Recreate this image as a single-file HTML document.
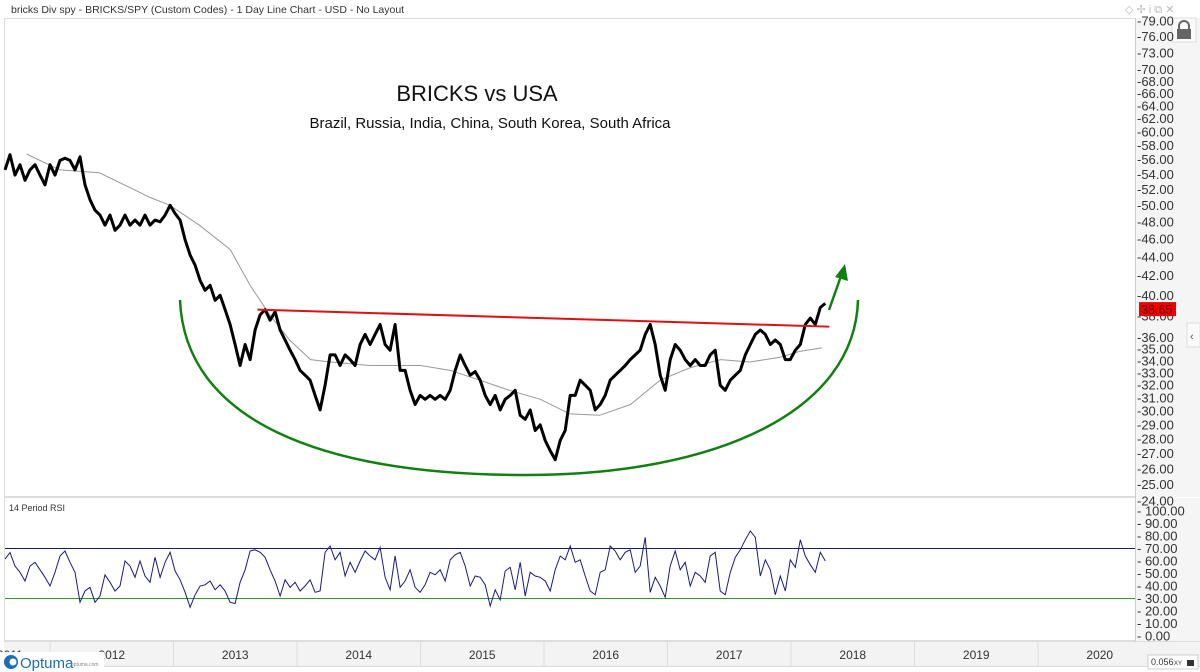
<!DOCTYPE html>
<html><head><meta charset="utf-8"><style>
body{margin:0;width:1200px;height:672px;background:#fff;overflow:hidden;font-family:"Liberation Sans",sans-serif}
svg{display:block}
</style></head><body>
<svg id="chart" width="1200" height="672" viewBox="0 0 1200 672" xmlns="http://www.w3.org/2000/svg" font-family="Liberation Sans, sans-serif">
<rect x="0" y="0" width="1200" height="672" fill="#fff"/>
<text x="11" y="13" font-size="10.5" fill="#333">bricks Div spy - BRICKS/SPY (Custom Codes) - 1 Day Line Chart - USD - No Layout</text>
<g font-size="11" fill="#bbb"><text x="1125" y="13">◇ ✢ i ⧉ ✕</text></g>
<rect x="4.5" y="18.5" width="1131" height="478" fill="none" stroke="#ddd"/>
<rect x="4.5" y="497.5" width="1131" height="143" fill="none" stroke="#ddd"/>
<rect x="1135" y="18" width="65" height="479" fill="#f5f5f5"/>
<rect x="1135" y="498" width="65" height="143" fill="#f5f5f5"/>
<line x1="1135.5" y1="18" x2="1135.5" y2="641" stroke="#ccc"/>
<rect x="1172" y="18" width="24" height="24" fill="#fafafa" stroke="#ddd"/>
<path d="M1179 30 v-4 a5 5 0 0 1 10 0 v4" fill="none" stroke="#666" stroke-width="2"/>
<rect x="1177" y="29" width="14" height="10" fill="#666"/>
<rect x="1187" y="323" width="13" height="24" fill="#fafafa" stroke="#ddd"/>
<text x="1190" y="340" font-size="11" fill="#555">‹</text>
<text x="477" y="101" font-size="22" text-anchor="middle" fill="#111">BRICKS vs USA</text>
<text x="490" y="128" font-size="15" text-anchor="middle" fill="#111">Brazil, Russia, India, China, South Korea, South Africa</text>
<text x="9" y="511" font-size="9" fill="#333">14 Period RSI</text>
<rect x="4" y="641" width="1196" height="26" fill="#f3f3f3"/>
<line x1="4" y1="641.5" x2="1200" y2="641.5" stroke="#ddd"/>
<line x1="4" y1="666.5" x2="1200" y2="666.5" stroke="#ddd"/>
<g id="price-ticks"></g>
<g id="rsi-ticks"></g>
<g id="time-ticks"></g>
<g id="marks"></g>
<g>
<rect x="0" y="652" width="104" height="20" fill="#fff"/>
<circle cx="11" cy="662" r="7" fill="#1a6fb5"/><circle cx="13" cy="662" r="3.5" fill="#fff"/>
<text x="20" y="668" font-size="15" fill="#1a6fb5">Optuma</text>
<text x="71" y="666" font-size="5" fill="#888">optuma.com</text>
</g>
<g><rect x="1148" y="655" width="50" height="14" fill="#fff" stroke="#ccc"/>
<text x="1151" y="665" font-size="9" fill="#333">0.056</text><text x="1174" y="665" font-size="6" fill="#333">XY</text><rect x="1187" y="660" width="7" height="6" fill="#333"/></g>
</svg>
<script>
const priceStartYear = 2011.6356;
const priceStepYears = 0.0405;
const priceValues = [54.6,56.7,53.9,55.3,53.2,54.6,55.3,53.9,52.6,55.3,53.9,55.9,56.2,55.9,54.6,56.4,52.6,50.7,49.4,48.8,47.6,48.8,47.0,47.6,48.8,47.6,48.2,47.6,48.8,47.6,48.2,48.0,48.8,50.0,49.0,48.2,45.9,44.2,43.1,41.5,40.5,41.0,39.5,40.0,38.6,37.2,35.4,33.6,35.4,34.1,36.7,38.1,38.6,37.6,38.4,36.7,35.8,34.9,34.1,33.2,32.8,32.4,31.2,30.1,32.0,34.5,34.5,33.6,34.5,34.1,33.6,35.4,36.3,35.4,36.3,37.2,35.4,34.9,37.2,33.2,33.2,31.6,30.5,31.2,30.9,31.2,30.9,31.2,30.9,31.6,33.2,34.5,33.6,32.8,33.1,32.4,31.2,30.5,31.2,30.1,30.9,31.2,31.6,29.7,29.4,30.1,28.6,29.0,27.9,27.2,26.6,27.9,28.6,31.2,31.2,32.4,32.0,31.6,30.1,30.5,31.2,32.4,32.8,33.2,33.6,34.1,34.5,34.9,36.3,37.2,35.4,32.8,31.6,34.1,35.4,34.9,34.1,33.6,34.1,33.6,33.6,34.5,34.9,32.0,31.6,32.4,32.8,33.2,34.5,35.4,36.3,36.7,36.3,35.4,35.8,35.4,34.1,34.1,34.9,35.4,37.2,37.8,37.2,38.8,39.2];
const maYears = [2011.81,2012.08,2012.40,2012.81,2012.97,2013.21,2013.46,2013.62,2013.78,2013.94,2014.11,2014.27,2014.59,2014.83,2015.00,2015.24,2015.48,2015.72,2015.97,2016.21,2016.45,2016.70,2016.94,2017.18,2017.43,2017.67,2017.91,2018.07,2018.25];
const maValues = [56.8,54.6,54.2,51.0,50.0,47.6,44.8,41.0,38.1,35.8,34.1,33.9,33.6,33.6,33.6,33.2,32.4,31.6,30.9,29.8,29.7,30.5,32.4,33.4,34.1,33.9,34.3,34.8,35.1];
const rsiValues = [61.5,66.8,56,51,44,56,59,53,47,40,51,64,68,59,51,27,36,39,27,32,49,43,36,40,60,56,47,60,48,43,63,47,59,67,52,45,35,23,33,40,41,44,37,41,36,27,26,43,53,68,69,67,63,53,44,32,45,39,43,36,40,45,35,36,67,72,61,67,48,59,51,60,68,64,61,71,47,37,64,39,44,53,39,35,41,51,49,53,44,61,65,67,56,40,48,47,41,24,37,29,52,55,37,59,32,51,48,47,44,36,53,64,61,72,59,61,48,36,33,51,53,72,68,61,67,69,51,56,79,35,47,40,31,56,68,53,59,40,51,48,43,64,67,36,33,51,63,69,77,84,79,48,61,53,33,48,36,61,55,77,64,57,51,67,60];
const priceTicks = [79,76,73,70,68,66,64,62,60,58,56,54,52,50,48,46,44,42,40,38,36,35,34,33,32,31,30,29,28,27,26,25,24];
const rsiTicks = [100,90,80,70,60,50,40,30,20,10,0];
const yearLabels = ["2011","2012","2013","2014","2015","2016","2017","2018","2019","2020"];
const yearStarts = [2011,2012,2013,2014,2015,2016,2017,2018,2019,2020];
const lastPrice = 38.65;
const trendStart = [2013.68, 38.6];
const trendEnd = [2018.31, 37.0];

const NS="http://www.w3.org/2000/svg";
const X = t => 50 + (t-2012)*123.5;
const Y = v => 21 + Math.log(79/v)*403;
const RY = v => 636 - v*1.25;
function mk(tag, attrs, parent){const e=document.createElementNS(NS,tag);for(const k in attrs)e.setAttribute(k,attrs[k]);(parent||document.getElementById('marks')).appendChild(e);return e;}

const pt=document.getElementById('price-ticks');
priceTicks.forEach(v=>{const y=Y(v);
 const t=mk('text',{x:1137,y:y+4.5,'font-size':13,fill:'#333'},pt);
 
 
 t.textContent='-'+v.toFixed(2);});
const rt=document.getElementById('rsi-ticks');
rsiTicks.forEach(v=>{const y=RY(v);
 const t=mk('text',{x:1137,y:y+4.5,'font-size':13,fill:'#333'},rt);
 
 
 t.textContent='- '+v.toFixed(2);});
const tt=document.getElementById('time-ticks');
yearStarts.forEach((yr,i)=>{const x=X(yr);
 if(i>0) mk('line',{x1:x,y1:641,x2:x,y2:666,stroke:'#ddd'},tt);
 const t=mk('text',{x:i===0?-3:x+61.75,y:659,'font-size':12,fill:'#333','text-anchor':i===0?'start':'middle'},tt);
 
 
 t.textContent=yearLabels[i];});

const l70=mk('line',{x1:5,x2:1135,y1:RY(70),y2:RY(70),stroke:'#1a1a80','stroke-width':1});


const l30=mk('line',{x1:5,x2:1135,y1:RY(30),y2:RY(30),stroke:'#2a9a2a','stroke-width':1});



const arc=mk('path',{d:'M180 300 C 185 420, 320 475, 525 475 C 720 475, 855 410, 858 300',fill:'none',stroke:'#108010','stroke-width':2.5});



const ma=mk('polyline',{points:maValues.map((v,i)=>X(maYears[i]).toFixed(1)+','+Y(v).toFixed(1)).join(' '),fill:'none',stroke:'#999','stroke-width':1});



const pl=mk('polyline',{points:priceValues.map((v,i)=>X(priceStartYear+i*priceStepYears).toFixed(1)+','+Y(v).toFixed(1)).join(' '),fill:'none',stroke:'#000','stroke-width':3,'stroke-linejoin':'round'});



const tl=mk('line',{x1:X(trendStart[0]),y1:Y(trendStart[1]),x2:X(trendEnd[0]),y2:Y(trendEnd[1]),stroke:'#e01010','stroke-width':2});



const ar=mk('line',{x1:829,y1:310,x2:841,y2:276,stroke:'#108010','stroke-width':2.5});


const ah=mk('polygon',{points:'845,264 848,281 835,277',fill:'#108010'});



const rl=mk('polyline',{points:rsiValues.map((v,i)=>X(priceStartYear+i*priceStepYears).toFixed(1)+','+RY(v).toFixed(1)).join(' '),fill:'none',stroke:'#1a1a80','stroke-width':1});



const ly=Y(lastPrice);
const lb=mk('rect',{x:1139,y:ly-7,width:37,height:14,fill:'#ee0000'});


const lt=mk('text',{x:1141,y:ly+5,'font-size':12.5,fill:'#600'});


lt.textContent=lastPrice.toFixed(2);
</script>
</body></html>
